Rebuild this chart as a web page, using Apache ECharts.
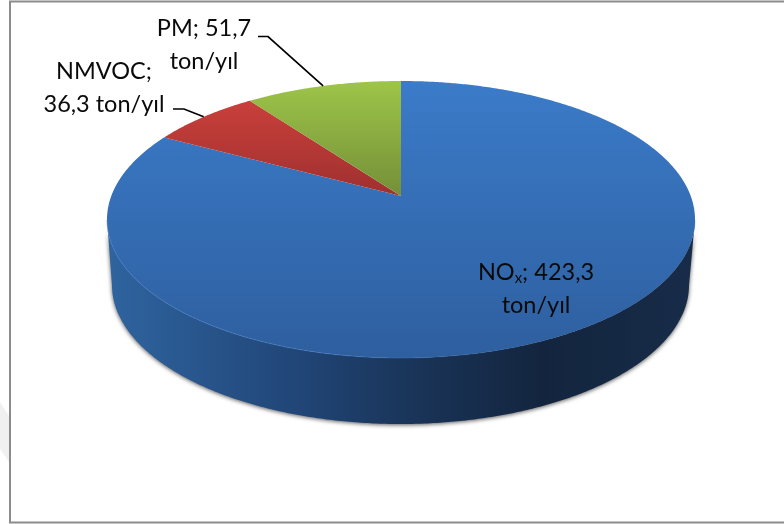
<!DOCTYPE html>
<html>
<head>
<meta charset="utf-8">
<style>html,body{margin:0;padding:0;background:#fff}#chart{width:784px;height:524px}</style>
<script src="https://cdn.jsdelivr.net/npm/echarts@6/dist/echarts.min.js"></script>
</head>
<body>
<div id="chart"></div>
<script>
// Annual emissions, ton/yıl, clockwise from 12 o'clock
const sliceNames = ['NOx', 'NMVOC', 'PM'];
const sliceValues = [423.3, 36.3, 51.7];
const sliceLabels = ['NO{sub|x}; 423,3\nton/yıl', 'NMVOC;\n36,3 ton/yıl', 'PM; 51,7\nton/yıl'];

// Drawing styles
const faceColors = [['#3b7bc9', '#2e5f9f'], ['#c9403b', '#9f302f'], ['#9ec549', '#748f38']];
const wallStops = [[0, '#2f649f'], [0.16, '#28558c'], [0.34, '#204475'], [0.5, '#1a365b'], [0.74, '#13253e'], [1, '#172c49']];
const FONT = 'Lato, Carlito, sans-serif';

// Disc geometry in pixels; the tilted view moves the hub above the ellipse centre
const topDisc = { cx: 401, cy: 219.5, rx: 294, ry: 138.5 };
const bottomDisc = { cx: 400.5, cy: 285, rx: 288.5, ry: 139 };
const TILT = 0.17;
const labelLayout = [
  { x: 536, y: 289, leader: null },
  { x: 104, y: 87.5, leader: [[173, 109], [184, 109]] },
  { x: 204, y: 44.5, leader: [[258, 36.5], [268, 36.5]] }
];

const total = sliceValues.reduce((a, b) => a + b, 0);

// Unit-disc position of a clockwise angle after the perspective tilt
function tilted(deg) {
  const a = deg * Math.PI / 180;
  const sx = Math.sin(a), cy = Math.cos(a);
  const d = 1 + TILT * cy;
  return [sx * Math.sqrt(1 - TILT * TILT) / d, (cy + TILT) / d];
}
const onDisc = (p, e) => [e.cx + e.rx * p[0], e.cy - e.ry * p[1]];
function arcAngles(from, to) {
  const list = [];
  for (let d = from; d < to; d += 0.5) list.push(d);
  list.push(to);
  return list;
}

function renderSlice(params, api) {
  const i = params.dataIndex;
  const value = api.value(0);
  const start = api.value(1) / total * 360;
  const end = start + value / total * 360;
  const angles = arcAngles(start, end);
  const children = [];

  // Side wall: only the part of the rim that faces the viewer
  const front = angles.map(tilted).filter(p => p[1] <= 0);
  if (front.length > 1) {
    const upper = front.map(p => onDisc(p, topDisc));
    const lower = front.map(p => onDisc(p, bottomDisc)).reverse();
    children.push({
      type: 'polygon',
      shape: { points: upper.concat(lower) },
      style: {
        fill: { type: 'linear', x: 0, y: 0, x2: 1, y2: 0, colorStops: wallStops.map(s => ({ offset: s[0], color: s[1] })) },
        shadowColor: 'rgba(0,0,0,0.65)', shadowBlur: 4, shadowOffsetY: 1
      }
    });
  }

  // Top face, a wedge from the hub to the rim
  const hub = onDisc([0, TILT], topDisc);
  const rim = angles.map(a => onDisc(tilted(a), topDisc));
  children.push({
    type: 'polygon',
    shape: { points: [hub].concat(rim) },
    style: {
      fill: { type: 'linear', x: 0, y: 0, x2: 0, y2: 1, colorStops: [{ offset: 0, color: faceColors[i][0] }, { offset: 1, color: faceColors[i][1] }] }
    }
  });

  // Bevel along the front rim of the face
  if (front.length > 1) {
    children.push({
      type: 'polyline',
      shape: { points: front.map(p => onDisc(p, topDisc)) },
      style: {
        fill: 'none', lineWidth: 1,
        stroke: { type: 'linear', x: 0, y: 0, x2: 1, y2: 0, colorStops: [
          { offset: 0, color: 'rgba(70,130,205,0.5)' },
          { offset: 0.4, color: 'rgba(75,130,200,0.55)' },
          { offset: 0.65, color: 'rgba(50,95,150,0.35)' },
          { offset: 1, color: 'rgba(30,60,100,0.2)' }
        ] }
      }
    });
  }

  // Leader line runs to the middle of the slice's rim
  const layout = labelLayout[i];
  if (layout.leader) {
    const tip = onDisc(tilted((start + end) / 2), topDisc);
    children.push({
      type: 'polyline',
      shape: { points: layout.leader.concat([tip]) },
      style: { fill: 'none', stroke: '#000', lineWidth: 1.7 }
    });
  }

  children.push({
    type: 'text',
    x: layout.x, y: layout.y,
    style: {
      text: sliceLabels[i],
      fontFamily: FONT, fontSize: 23.5, lineHeight: 33,
      fill: '#0a0a0a', align: 'center', verticalAlign: 'middle',
      rich: { sub: { fontFamily: FONT, fontSize: 15, fill: '#0a0a0a', lineHeight: 33, padding: [11, 0, 0, 0] } }
    }
  });
  return { type: 'group', children };
}

let running = 0;
const seriesData = sliceValues.map((v, i) => {
  const item = { name: sliceNames[i], value: [v, running] };
  running += v;
  return item;
});

const chart = echarts.init(document.getElementById('chart'), null, { renderer: 'canvas' });
chart.setOption({
  animation: false,
  backgroundColor: '#fff',
  graphic: [
    { type: 'polygon', silent: true, shape: { points: [[0, 402], [9, 416], [9, 462], [0, 449]] }, style: { fill: '#f0f0f0' } },
    { type: 'rect', silent: true, shape: { x: 10, y: 1.5, width: 800, height: 521 }, style: { fill: 'none', stroke: '#8c8c8c', lineWidth: 2 } }
  ],
  series: [{
    type: 'custom',
    coordinateSystem: 'none',
    dimensions: ['value', 'before'],
    renderItem: renderSlice,
    data: seriesData
  }]
});
</script>
</body>
</html>
